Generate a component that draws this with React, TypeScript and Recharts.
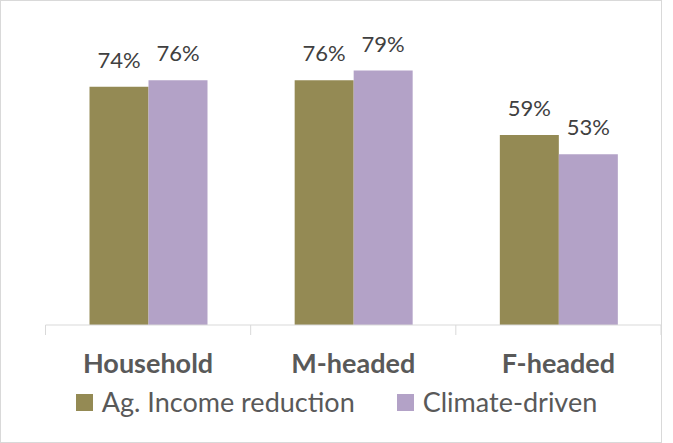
import React from 'react';
import { BarChart, Bar, XAxis, YAxis, LabelList, Legend } from 'recharts';

const categories = ['Household', 'M-headed', 'F-headed'];
const agIncomeReduction = [74, 76, 59];
const climateDriven = [76, 79, 53];
const seriesNames = ['Ag. Income reduction', 'Climate-driven'];
const seriesColors = ['#948A54', '#B3A2C7'];

const data = categories.map((c, i) => ({
  category: c,
  ag: agIncomeReduction[i],
  climate: climateDriven[i],
}));

const FONT = 'Lato, "Open Sans", sans-serif';
const TICK_SIZE = 10;
const TICK_MARGIN = 18;

const CategoryTick = (props: any) => {
  const { x, y, payload, index, width, visibleTicksCount } = props;
  const band = width / visibleTicksCount;
  const axisY = y - TICK_SIZE - TICK_MARGIN;
  return (
    <g>
      <line x1={x - band / 2} x2={x - band / 2} y1={axisY} y2={axisY + TICK_SIZE} stroke="#d9d9d9" strokeWidth={1} />
      {index === visibleTicksCount - 1 && (
        <line x1={x + band / 2} x2={x + band / 2} y1={axisY} y2={axisY + TICK_SIZE} stroke="#d9d9d9" strokeWidth={1} />
      )}
      <text x={x} y={y + 20} textAnchor="middle" fill="#595959" fontSize={27} fontWeight={700} fontFamily={FONT}>
        {payload.value}
      </text>
    </g>
  );
};

const LegendContent = () => (
  <div style={{ display: 'flex', justifyContent: 'center', alignItems: 'center', fontFamily: FONT, fontSize: 27, color: '#595959', height: 30, lineHeight: '30px' }}>
    {seriesNames.map((name, i) => (
      <div key={name} style={{ display: 'flex', alignItems: 'center', marginLeft: i === 0 ? 0 : 42 }}>
        <div style={{ width: 17, height: 17, background: seriesColors[i], marginRight: 9 }} />
        <span>{name}</span>
      </div>
    ))}
  </div>
);

export default function App() {
  return (
    <div style={{ position: 'absolute', left: 0, top: 0, width: 673, height: 443, background: '#fff' }}>
      <div style={{ position: 'absolute', left: 0, top: 0, width: 662, height: 443, border: '1px solid #d9d9d9', boxSizing: 'border-box' }} />
      <BarChart
        width={673}
        height={443}
        data={data}
        margin={{ top: 3, right: 12, left: 45.5, bottom: 0 }}
        barCategoryGap={44}
        barGap={0}
      >
        <YAxis hide domain={[0, 100]} />
        <XAxis
          dataKey="category"
          height={118}
          tickLine={false}
          tickSize={TICK_SIZE}
          tickMargin={TICK_MARGIN}
          axisLine={{ stroke: '#d9d9d9', strokeWidth: 1 }}
          tick={<CategoryTick />}
          interval={0}
        />
        <Legend
          verticalAlign="middle"
          layout="horizontal"
          content={<LegendContent />}
          wrapperStyle={{ top: 387, left: 0, width: 673 }}
        />
        <Bar dataKey="ag" name={seriesNames[0]} fill={seriesColors[0]} isAnimationActive={false}>
          <LabelList dataKey="ag" position="top" offset={19} formatter={(v: any) => `${v}%`} fill="#404040" fontSize={22} fontFamily={FONT} />
        </Bar>
        <Bar dataKey="climate" name={seriesNames[1]} fill={seriesColors[1]} isAnimationActive={false}>
          <LabelList dataKey="climate" position="top" offset={19} formatter={(v: any) => `${v}%`} fill="#404040" fontSize={22} fontFamily={FONT} />
        </Bar>
      </BarChart>
    </div>
  );
}
